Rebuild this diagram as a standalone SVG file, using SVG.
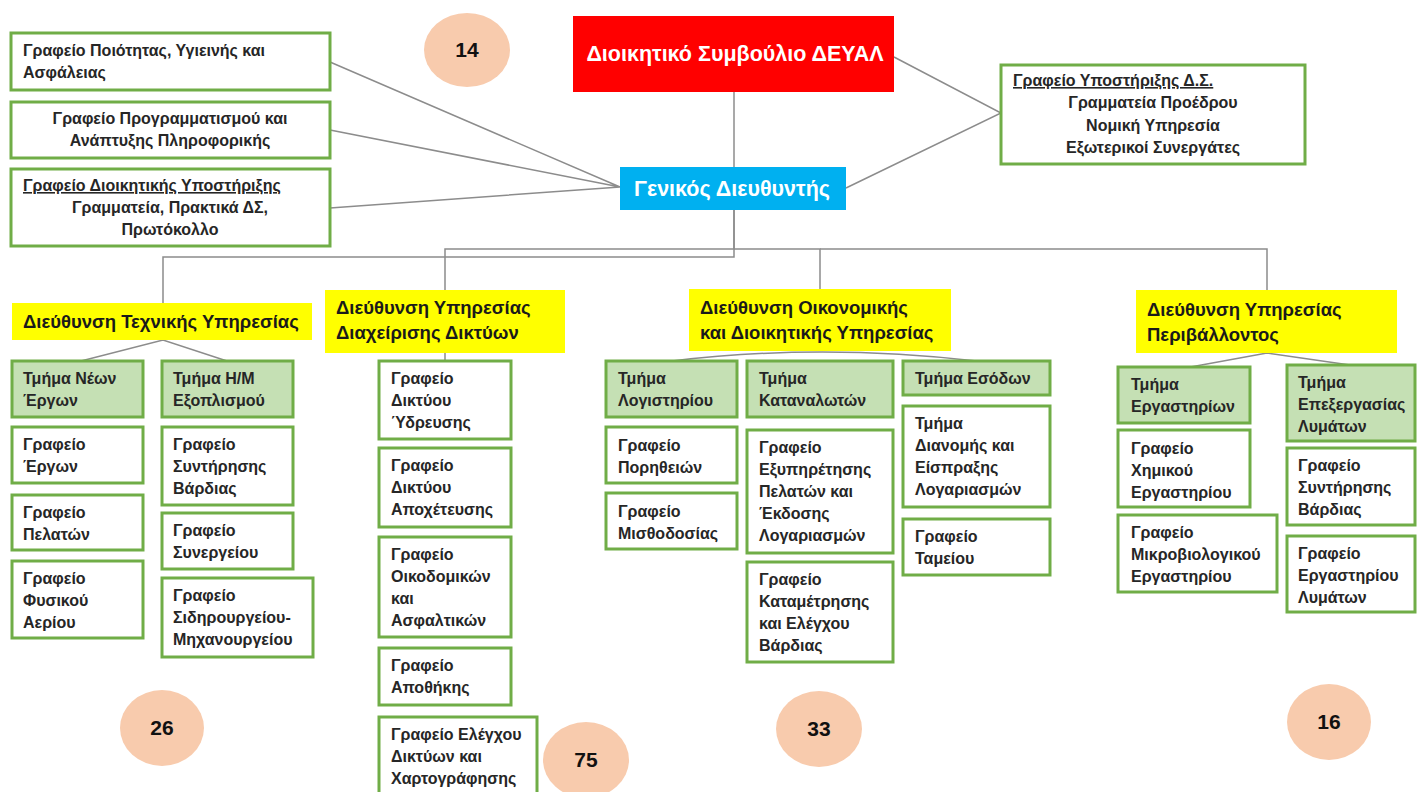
<svg xmlns="http://www.w3.org/2000/svg" width="1425" height="792" viewBox="0 0 1425 792">
<style>
.bx{fill:#fff;stroke:#70AD47;stroke-width:3}
.dp{fill:#C5E0B4;stroke:#70AD47;stroke-width:3}
.dr{fill:#FFFF00}
.t{font-family:"Liberation Sans",Arial,sans-serif;font-weight:bold;font-size:16px;fill:#262626}
.ty{font-family:"Liberation Sans",Arial,sans-serif;font-weight:bold;font-size:18.5px;fill:#1a1a1a}
.tw{font-family:"Liberation Sans",Arial,sans-serif;font-weight:bold;font-size:21.5px;fill:#fff;text-anchor:middle}
.c{text-anchor:middle}
.u{text-decoration:underline}
.cn{fill:none;stroke:#8c8c8c;stroke-width:1.5}
.ci{fill:#F8CBAD}
.n{font-family:"Liberation Sans",Arial,sans-serif;font-weight:bold;font-size:21px;fill:#111;text-anchor:middle}
</style>
<rect width="1425" height="792" fill="#fff"/>
<g id="connectors">
<path class="cn" d="M734 92V167"/>
<path class="cn" d="M894 57L1001 113L846 188"/>
<path class="cn" d="M330 62L620 187M330 130L620 187M330 208L620 187"/>
<path class="cn" d="M734 210V257H163V303"/>
<path class="cn" d="M734 210V249H445V290"/>
<path class="cn" d="M734 249H820V289"/>
<path class="cn" d="M820 249H1267V290"/>
<path class="cn" d="M81 361L163 340L227 361"/>
<path class="cn" d="M445 353V361"/>
<path class="cn" d="M672 361Q820 343 977 361"/>
<path class="cn" d="M1185 368L1267 353L1350 365"/>
</g>
<g id="n14"><ellipse class="ci" cx="467" cy="50" rx="43" ry="37"/><text class="n" x="467" y="57">14</text></g>
<g id="n26"><ellipse class="ci" cx="162" cy="728" rx="42" ry="38"/><text class="n" x="162" y="735">26</text></g>
<g id="n75"><ellipse class="ci" cx="586" cy="760" rx="43" ry="38"/><text class="n" x="586" y="767">75</text></g>
<g id="n33"><ellipse class="ci" cx="819" cy="729" rx="43" ry="38"/><text class="n" x="819" y="736">33</text></g>
<g id="n16"><ellipse class="ci" cx="1329" cy="722" rx="42" ry="38"/><text class="n" x="1329" y="729">16</text></g>
<g id="board"><rect x="573" y="16" width="321" height="76" fill="#FF0000"/><text class="tw" x="735" y="61">Διοικητικό Συμβούλιο ΔΕΥΑΛ</text></g>
<g id="gm"><rect x="620" y="167" width="226" height="43" fill="#00B0F0"/><text class="tw" x="732" y="196">Γενικός Διευθυντής</text></g>
<g id="quality"><rect class="bx" x="11" y="33" width="319" height="57"/><text class="t" x="23" y="56">Γραφείο Ποιότητας, Υγιεινής και</text><text class="t" x="23" y="78">Ασφάλειας</text></g>
<g id="it"><rect class="bx" x="11" y="102" width="319" height="56"/><text class="t c" x="170" y="124">Γραφείο Προγραμματισμού και</text><text class="t c" x="170" y="146">Ανάπτυξης Πληροφορικής</text></g>
<g id="admin"><rect class="bx" x="11" y="169" width="319" height="77"/><text class="t u" x="23" y="191">Γραφείο Διοικητικής Υποστήριξης</text><text class="t c" x="170" y="213">Γραμματεία, Πρακτικά ΔΣ,</text><text class="t c" x="170" y="235">Πρωτόκολλο</text></g>
<g id="boardsupport"><rect class="bx" x="1001" y="65" width="304" height="99"/><text class="t u" x="1013" y="86">Γραφείο Υποστήριξης Δ.Σ.</text><text class="t c" x="1153" y="108">Γραμματεία Προέδρου</text><text class="t c" x="1153" y="131">Νομική Υπηρεσία</text><text class="t c" x="1153" y="153">Εξωτερικοί Συνεργάτες</text></g>
<g id="d-tech"><rect class="dr" x="12" y="303" width="300" height="37"/><text class="ty" x="23" y="328">Διεύθυνση Τεχνικής Υπηρεσίας</text></g>
<g id="d-net"><rect class="dr" x="325" y="290" width="240" height="63"/><text class="ty" x="336" y="314">Διεύθυνση Υπηρεσίας</text><text class="ty" x="336" y="339">Διαχείρισης Δικτύων</text></g>
<g id="d-fin"><rect class="dr" x="689" y="289" width="262" height="62"/><text class="ty" x="700" y="314">Διεύθυνση Οικονομικής</text><text class="ty" x="700" y="339">και Διοικητικής Υπηρεσίας</text></g>
<g id="d-env"><rect class="dr" x="1136" y="290" width="261" height="63"/><text class="ty" x="1147" y="316">Διεύθυνση Υπηρεσίας</text><text class="ty" x="1147" y="341">Περιβάλλοντος</text></g>
<g id="t-new"><rect class="dp" x="12" y="361" width="131" height="56"/><text class="t" x="23" y="384">Τμήμα Νέων</text><text class="t" x="23" y="406">Έργων</text></g>
<g id="g-works"><rect class="bx" x="12" y="427" width="131" height="56"/><text class="t" x="23" y="450">Γραφείο</text><text class="t" x="23" y="472">Έργων</text></g>
<g id="g-clients"><rect class="bx" x="12" y="495" width="131" height="55"/><text class="t" x="23" y="518">Γραφείο</text><text class="t" x="23" y="540">Πελατών</text></g>
<g id="g-gas"><rect class="bx" x="12" y="561" width="131" height="77"/><text class="t" x="23" y="584">Γραφείο</text><text class="t" x="23" y="606">Φυσικού</text><text class="t" x="23" y="628">Αερίου</text></g>
<g id="t-em"><rect class="dp" x="162" y="361" width="131" height="56"/><text class="t" x="173" y="384">Τμήμα Η/Μ</text><text class="t" x="173" y="406">Εξοπλισμού</text></g>
<g id="g-shift1"><rect class="bx" x="162" y="427" width="131" height="78"/><text class="t" x="173" y="450">Γραφείο</text><text class="t" x="173" y="472">Συντήρησης</text><text class="t" x="173" y="494">Βάρδιας</text></g>
<g id="g-garage"><rect class="bx" x="162" y="513" width="131" height="56"/><text class="t" x="173" y="536">Γραφείο</text><text class="t" x="173" y="558">Συνεργείου</text></g>
<g id="g-iron"><rect class="bx" x="162" y="578" width="151" height="79"/><text class="t" x="173" y="601">Γραφείο</text><text class="t" x="173" y="623">Σιδηρουργείου-</text><text class="t" x="173" y="645">Μηχανουργείου</text></g>
<g id="g-water"><rect class="bx" x="379" y="361" width="132" height="78"/><text class="t" x="391" y="384">Γραφείο</text><text class="t" x="391" y="406">Δικτύου</text><text class="t" x="391" y="428">Ύδρευσης</text></g>
<g id="g-sewer"><rect class="bx" x="379" y="448" width="132" height="79"/><text class="t" x="391" y="471">Γραφείο</text><text class="t" x="391" y="493">Δικτύου</text><text class="t" x="391" y="515">Αποχέτευσης</text></g>
<g id="g-build"><rect class="bx" x="379" y="537" width="132" height="100"/><text class="t" x="391" y="560">Γραφείο</text><text class="t" x="391" y="582">Οικοδομικών</text><text class="t" x="391" y="604">και</text><text class="t" x="391" y="626">Ασφαλτικών</text></g>
<g id="g-store"><rect class="bx" x="379" y="648" width="132" height="57"/><text class="t" x="391" y="671">Γραφείο</text><text class="t" x="391" y="693">Αποθήκης</text></g>
<g id="g-map"><rect class="bx" x="379" y="717" width="158" height="80"/><text class="t" x="391" y="740">Γραφείο Ελέγχου</text><text class="t" x="391" y="762">Δικτύων και</text><text class="t" x="391" y="784">Χαρτογράφησης</text></g>
<g id="t-acc"><rect class="dp" x="606" y="361" width="131" height="56"/><text class="t" x="618" y="384">Τμήμα</text><text class="t" x="618" y="406">Λογιστηρίου</text></g>
<g id="g-supply"><rect class="bx" x="606" y="427" width="131" height="56"/><text class="t" x="618" y="451">Γραφείο</text><text class="t" x="618" y="473">Πορηθειών</text></g>
<g id="g-pay"><rect class="bx" x="606" y="493" width="131" height="56"/><text class="t" x="618" y="517">Γραφείο</text><text class="t" x="618" y="539">Μισθοδοσίας</text></g>
<g id="t-cons"><rect class="dp" x="747" y="361" width="146" height="56"/><text class="t" x="759" y="384">Τμήμα</text><text class="t" x="759" y="406">Καταναλωτών</text></g>
<g id="g-service"><rect class="bx" x="747" y="430" width="146" height="123"/><text class="t" x="759" y="453">Γραφείο</text><text class="t" x="759" y="475">Εξυπηρέτησης</text><text class="t" x="759" y="497">Πελατών και</text><text class="t" x="759" y="519">Έκδοσης</text><text class="t" x="759" y="541">Λογαριασμών</text></g>
<g id="g-meter"><rect class="bx" x="747" y="562" width="146" height="100"/><text class="t" x="759" y="585">Γραφείο</text><text class="t" x="759" y="607">Καταμέτρησης</text><text class="t" x="759" y="629">και Ελέγχου</text><text class="t" x="759" y="651">Βάρδιας</text></g>
<g id="t-rev"><rect class="dp" x="903" y="361" width="147" height="34"/><text class="t" x="915" y="384">Τμήμα Εσόδων</text></g>
<g id="t-dist"><rect class="bx" x="903" y="406" width="147" height="101"/><text class="t" x="915" y="429">Τμήμα</text><text class="t" x="915" y="451">Διανομής και</text><text class="t" x="915" y="473">Είσπραξης</text><text class="t" x="915" y="495">Λογαριασμών</text></g>
<g id="g-cash"><rect class="bx" x="903" y="519" width="147" height="56"/><text class="t" x="915" y="542">Γραφείο</text><text class="t" x="915" y="564">Ταμείου</text></g>
<g id="t-lab"><rect class="dp" x="1118" y="367" width="132" height="56"/><text class="t" x="1131" y="390">Τμήμα</text><text class="t" x="1131" y="412">Εργαστηρίων</text></g>
<g id="g-chem"><rect class="bx" x="1118" y="430" width="132" height="77"/><text class="t" x="1131" y="454">Γραφείο</text><text class="t" x="1131" y="476">Χημικού</text><text class="t" x="1131" y="498">Εργαστηρίου</text></g>
<g id="g-micro"><rect class="bx" x="1118" y="515" width="159" height="77"/><text class="t" x="1131" y="538">Γραφείο</text><text class="t" x="1131" y="560">Μικροβιολογικού</text><text class="t" x="1131" y="582">Εργαστηρίου</text></g>
<g id="t-waste"><rect class="dp" x="1287" y="365" width="128" height="76"/><text class="t" x="1298" y="388">Τμήμα</text><text class="t" x="1298" y="410">Επεξεργασίας</text><text class="t" x="1298" y="432">Λυμάτων</text></g>
<g id="g-shift2"><rect class="bx" x="1287" y="448" width="128" height="77"/><text class="t" x="1298" y="471">Γραφείο</text><text class="t" x="1298" y="493">Συντήρησης</text><text class="t" x="1298" y="515">Βάρδιας</text></g>
<g id="g-wlab"><rect class="bx" x="1287" y="536" width="128" height="76"/><text class="t" x="1298" y="559">Γραφείο</text><text class="t" x="1298" y="581">Εργαστηρίου</text><text class="t" x="1298" y="603">Λυμάτων</text></g>
</svg>
